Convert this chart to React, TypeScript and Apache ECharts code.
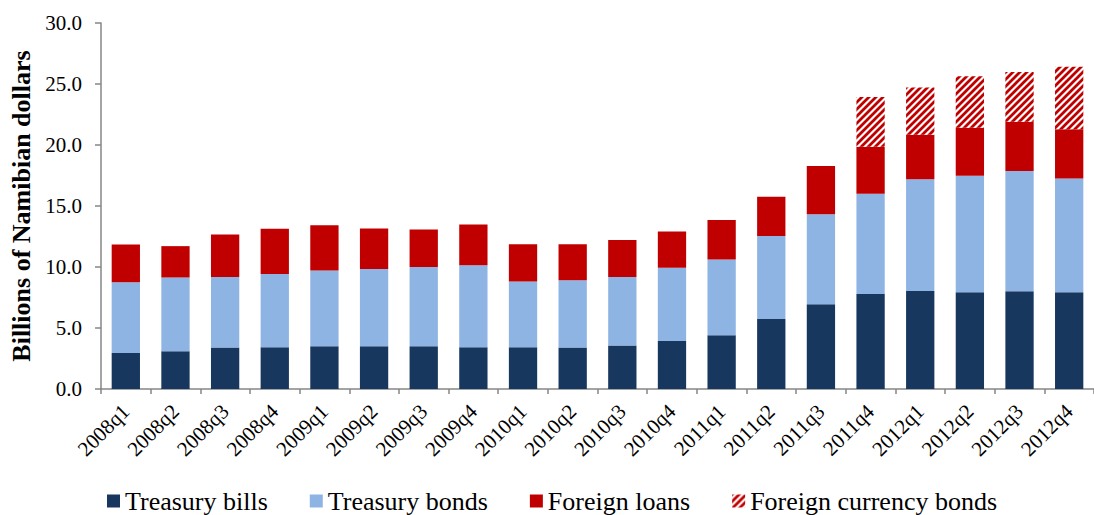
import React, { useEffect, useRef } from "react";
import * as echarts from "echarts";

const categories = [
  "2008q1", "2008q2", "2008q3", "2008q4",
  "2009q1", "2009q2", "2009q3", "2009q4",
  "2010q1", "2010q2", "2010q3", "2010q4",
  "2011q1", "2011q2", "2011q3", "2011q4",
  "2012q1", "2012q2", "2012q3", "2012q4",
];
const treasuryBills = [2.95, 3.09, 3.40, 3.42, 3.50, 3.50, 3.50, 3.42, 3.42, 3.40, 3.56, 3.94, 4.41, 5.74, 6.95, 7.79, 8.04, 7.93, 8.01, 7.93];
const treasuryBonds = [5.80, 6.05, 5.79, 6.01, 6.21, 6.34, 6.51, 6.73, 5.39, 5.52, 5.63, 5.99, 6.20, 6.81, 7.38, 8.21, 9.16, 9.54, 9.85, 9.33];
const foreignLoans = [3.10, 2.57, 3.48, 3.70, 3.72, 3.32, 3.07, 3.34, 3.06, 2.95, 3.03, 2.98, 3.25, 3.20, 3.94, 3.85, 3.64, 3.94, 4.04, 4.04];
const foreignCurrencyBonds = [null, null, null, null, null, null, null, null, null, null, null, null, null, null, null, 4.08, 3.88, 4.22, 4.08, 5.11];
const yTicks = [0, 5, 10, 15, 20, 25, 30];

const FONT = "'Liberation Serif', 'Times New Roman', serif";

function makeStripePattern(): HTMLCanvasElement {
  const s = 7;
  const c = document.createElement("canvas");
  c.width = s;
  c.height = s;
  const ctx = c.getContext("2d")!;
  ctx.fillStyle = "#ffffff";
  ctx.fillRect(0, 0, s, s);
  ctx.strokeStyle = "#c00000";
  ctx.lineWidth = 2.8;
  ctx.beginPath();
  ctx.moveTo(-1, s + 1);
  ctx.lineTo(s + 1, -1);
  ctx.moveTo(-2, 2);
  ctx.lineTo(2, -2);
  ctx.moveTo(s - 2, s + 2);
  ctx.lineTo(s + 2, s - 2);
  ctx.stroke();
  return c;
}

export default function App() {
  const ref = useRef<HTMLDivElement>(null);
  useEffect(() => {
    if (!ref.current) return;
    const chart = echarts.init(ref.current, undefined, { renderer: "svg" });
    const pattern = { image: makeStripePattern(), repeat: "repeat" };
    const barW = "57%";
    chart.setOption({
      animation: false,
      backgroundColor: "#ffffff",
      textStyle: { fontFamily: FONT },
      grid: { left: 100, top: 23, width: 997, bottom: 126, containLabel: false },
      legend: {
        left: 102,
        top: 483,
        itemWidth: 13,
        itemHeight: 13,
        itemGap: 42,
        icon: "rect",
        textStyle: { fontFamily: FONT, fontSize: 26, lineHeight: 26, color: "#000", padding: [0, 0, 0, 0] },
        data: ["Treasury bills", "Treasury bonds", "Foreign loans", "Foreign currency bonds"],
      },
      xAxis: {
        type: "category",
        data: categories,
        axisLine: { lineStyle: { color: "#868686", width: 1.5 } },
        axisTick: { show: true, length: 5, lineStyle: { color: "#868686", width: 1.5 } },
        axisLabel: {
          rotate: 45,
          fontFamily: FONT,
          fontSize: 21,
          color: "#000",
          margin: 19,
          interval: 0,
        },
      },
      yAxis: {
        type: "value",
        min: yTicks[0],
        max: yTicks[yTicks.length - 1],
        interval: 5,
        name: "Billions of Namibian dollars",
        nameLocation: "middle",
        nameGap: 67,
        nameTextStyle: { fontFamily: FONT, fontSize: 26, fontWeight: "bold", color: "#000" },
        splitLine: { show: false },
        axisLine: { show: true, lineStyle: { color: "#868686", width: 1.5 } },
        axisTick: { show: true, length: 6, lineStyle: { color: "#868686", width: 1.5 } },
        axisLabel: {
          fontFamily: FONT,
          fontSize: 21,
          color: "#000",
          margin: 19,
          formatter: (v: number) => v.toFixed(1),
        },
      },
      series: [
        {
          name: "Treasury bills",
          type: "bar",
          stack: "total",
          barWidth: barW,
          data: treasuryBills,
          itemStyle: { color: "#17375e" },
        },
        {
          name: "Treasury bonds",
          type: "bar",
          stack: "total",
          barWidth: barW,
          data: treasuryBonds,
          itemStyle: { color: "#8eb4e3" },
        },
        {
          name: "Foreign loans",
          type: "bar",
          stack: "total",
          barWidth: barW,
          data: foreignLoans,
          itemStyle: { color: "#c00000" },
        },
        {
          name: "Foreign currency bonds",
          type: "bar",
          stack: "total",
          barWidth: barW,
          data: foreignCurrencyBonds,
          itemStyle: { color: pattern },
        },
      ],
    });
    return () => chart.dispose();
  }, []);
  return (
    <div
      ref={ref}
      style={{ position: "fixed", left: 0, top: 0, width: 1094, height: 515, background: "#fff" }}
    />
  );
}
